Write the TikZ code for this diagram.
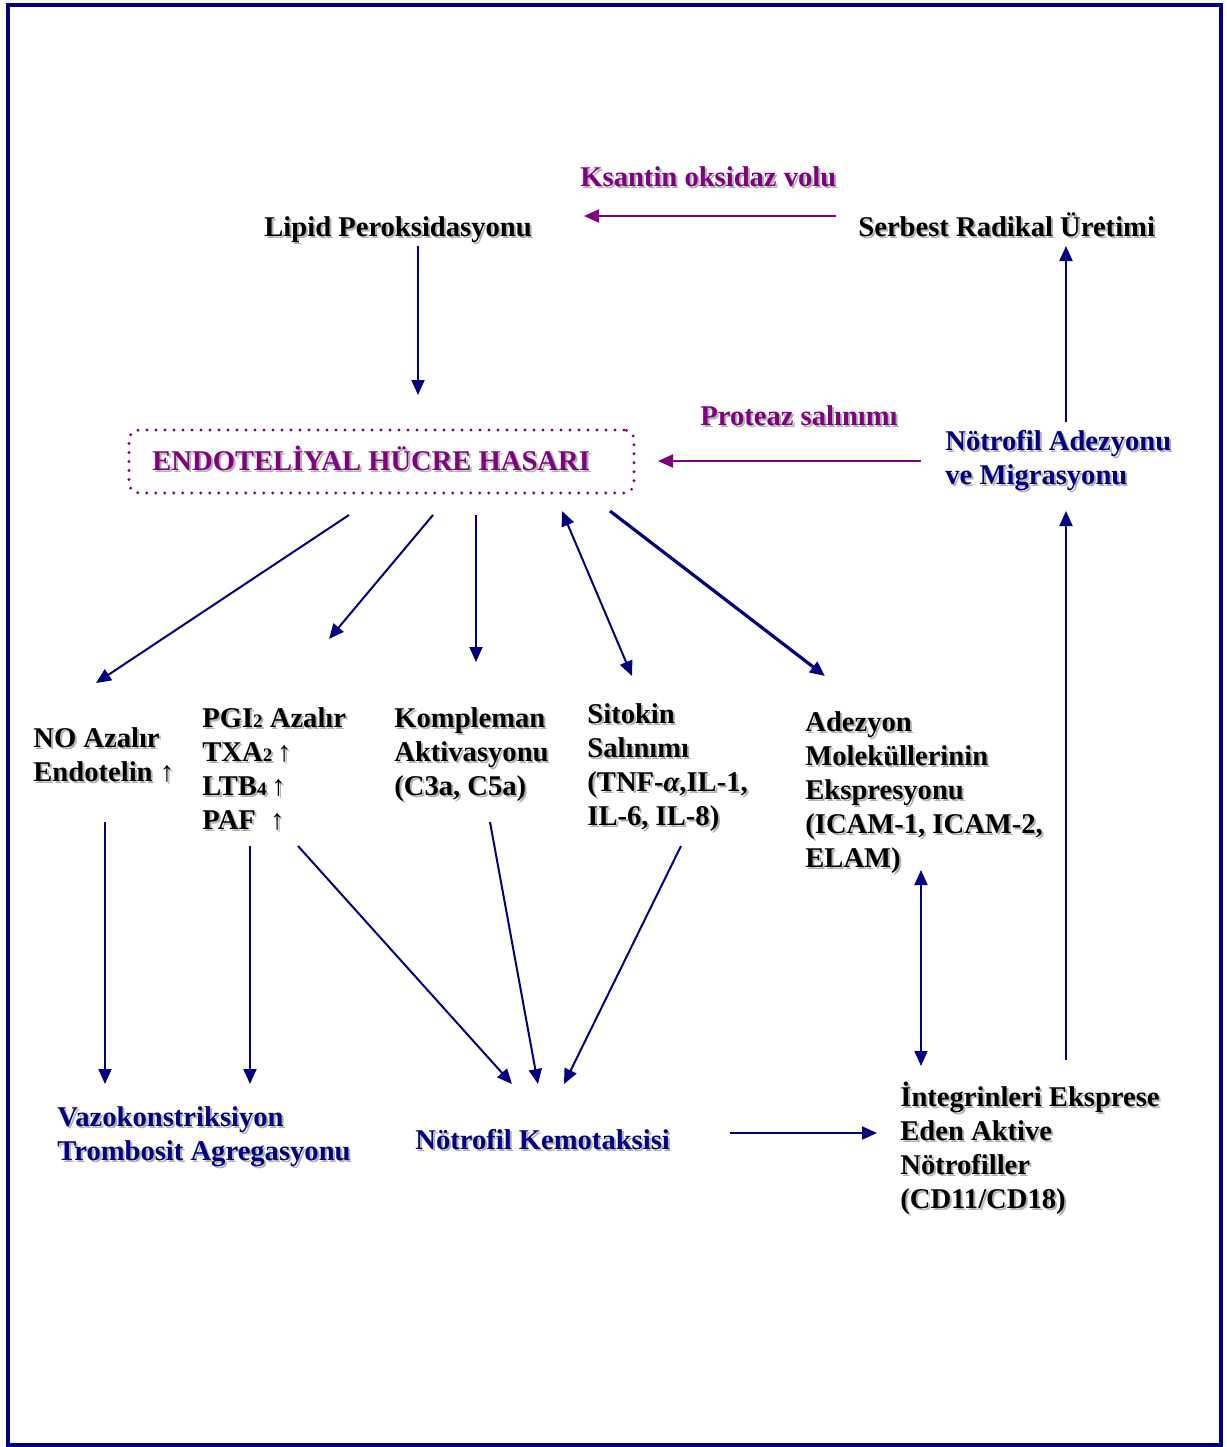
\documentclass[tikz,border=0pt]{standalone}
\usepackage{fontspec}
\setmainfont{Liberation Serif}
\usepackage{tikz}
\usetikzlibrary{arrows.meta}
\usetikzlibrary{calc}
\usepackage{xcolor}

\definecolor{navyline}{RGB}{0,0,128}
\definecolor{plum}{RGB}{128,0,128}
\definecolor{shadowc}{RGB}{178,178,178}
\newcommand{\sm}[1]{{\fontsize{9.5}{9.5}\selectfont #1}}
\newcommand{\shnode}[4][]{%
  \node[txt,#1,text=shadowc] (#2-sh) at ($(#3)+(2,2)$) {#4};
  \node[txt,#1] (#2) at (#3) {#4};}

\begin{document}
\begin{tikzpicture}[x=0.5pt,y=-0.5pt,>={Triangle[length=7.5pt,width=6.5pt]}]
  \tikzstyle{txt}=[inner sep=0pt,anchor=base west,align=left,font=\bfseries\fontsize{14.3}{17}\selectfont,text=black]
  \tikzstyle{arr}=[->,draw=navyline,line width=1pt]
  \tikzstyle{arrp}=[->,draw=plum,line width=1pt]
  \tikzstyle{endobox}=[draw=plum,line width=1.6pt,dash pattern=on 0pt off 4.5pt,line cap=round,rounded corners=5pt,minimum width=252.5pt,minimum height=31.5pt,inner sep=0pt]

  \useasboundingbox (0,0) rectangle (1227,1447);
  \draw[navyline,line width=2pt] (7.5,4.5) rectangle (1220.5,1444.5);

  % top row (base = last line)
  \shnode[text=plum]{ksantin}{580,186}{Ksantin oksidaz volu}
  \shnode{lipid}{264,236}{Lipid Peroksidasyonu}
  \shnode{serbest}{858,236}{Serbest Radikal Üretimi}
  \shnode[text=plum]{proteaz}{700,425}{Proteaz salınımı}
  \node[endobox] (endo) at (381.5,461.5) {};
  \shnode[text=plum]{endo-t}{152,470}{ENDOTELİYAL HÜCRE HASARI}
  \shnode[text=navyline]{adez}{945,484}{Nötrofil Adezyonu\\ve Migrasyonu}

  % middle row
  \shnode{no}{33,781}{NO Azalır\\Endotelin ↑}
  \shnode{pgi}{202,829}{PGI\sm{2} Azalır\\TXA\sm{2}\,↑\\LTB\sm{4}\,↑\\PAF\ \ ↑}
  \shnode{komp}{394,795}{Kompleman\\Aktivasyonu\\(C3a, C5a)}
  \shnode{sitokin}{587,825}{Sitokin\\Salınımı\\(TNF-\textit{α},IL-1,\\IL-6, IL-8)}
  \shnode{adezyon}{805,867}{Adezyon\\Moleküllerinin\\Ekspresyonu\\(ICAM-1, ICAM-2,\\ELAM)}

  % bottom row
  \shnode[text=navyline]{vazo}{57,1160}{Vazokonstriksiyon\\Trombosit Agregasyonu}
  \shnode[text=navyline]{kemo}{415,1149}{Nötrofil Kemotaksisi}
  \shnode{integ}{900,1208}{İntegrinleri Eksprese\\Eden Aktive\\Nötrofiller\\(CD11/CD18)}

  % connectors
  \draw[arrp] ($(serbest.base west)+(-22,-20)$) -- ($(lipid.base west)+(320,-20)$);
  \draw[arrp] ($(adez.base west)+(-24,-23)$) -- ($(endo.center)+(276.5,-0.5)$);
  \draw[arr] ($(lipid.base west)+(154,10)$) -- ($(endo.center)+(36.5,-66.5)$);
  \draw[arr] ($(adez.base west)+(121,-62)$) -- ($(serbest.base west)+(208,10)$);
  \draw[arr] ($(integ.base west)+(166,-148)$) -- ($(adez.base west)+(121,27)$);

  \draw[arr] ($(endo.center)+(-32.5,53.5)$) -- ($(no.base west)+(63,-98)$);
  \draw[arr] ($(endo.center)+(51.5,53.5)$) -- ($(pgi.base west)+(127,-190)$);
  \draw[arr] ($(endo.center)+(94.5,53.5)$) -- ($(komp.base west)+(82,-133)$);
  \draw[arr,<->] ($(endo.center)+(180.5,49.5)$) -- ($(sitokin.base west)+(45,-149)$);
  \draw[arr,line width=1.6pt] ($(endo.center)+(228.5,49.5)$) -- ($(adezyon.base west)+(20,-191)$);

  \draw[arr] ($(no.base west)+(72,41)$) -- ($(vazo.base west)+(48,-76)$);
  \draw[arr] ($(pgi.base west)+(48,17)$) -- ($(vazo.base west)+(193,-76)$);
  \draw[arr] ($(pgi.base west)+(96,17)$) -- ($(kemo.base west)+(97,-65)$);
  \draw[arr] ($(komp.base west)+(96,27)$) -- ($(kemo.base west)+(123,-65)$);
  \draw[arr] ($(sitokin.base west)+(94,21)$) -- ($(kemo.base west)+(149,-65)$);
  \draw[arr,<->] ($(adezyon.base west)+(116,3)$) -- ($(integ.base west)+(21,-142)$);
  \draw[arr] ($(kemo.base west)+(315,-16)$) -- ($(integ.base west)+(-23,-75)$);
\end{tikzpicture}
\end{document}
